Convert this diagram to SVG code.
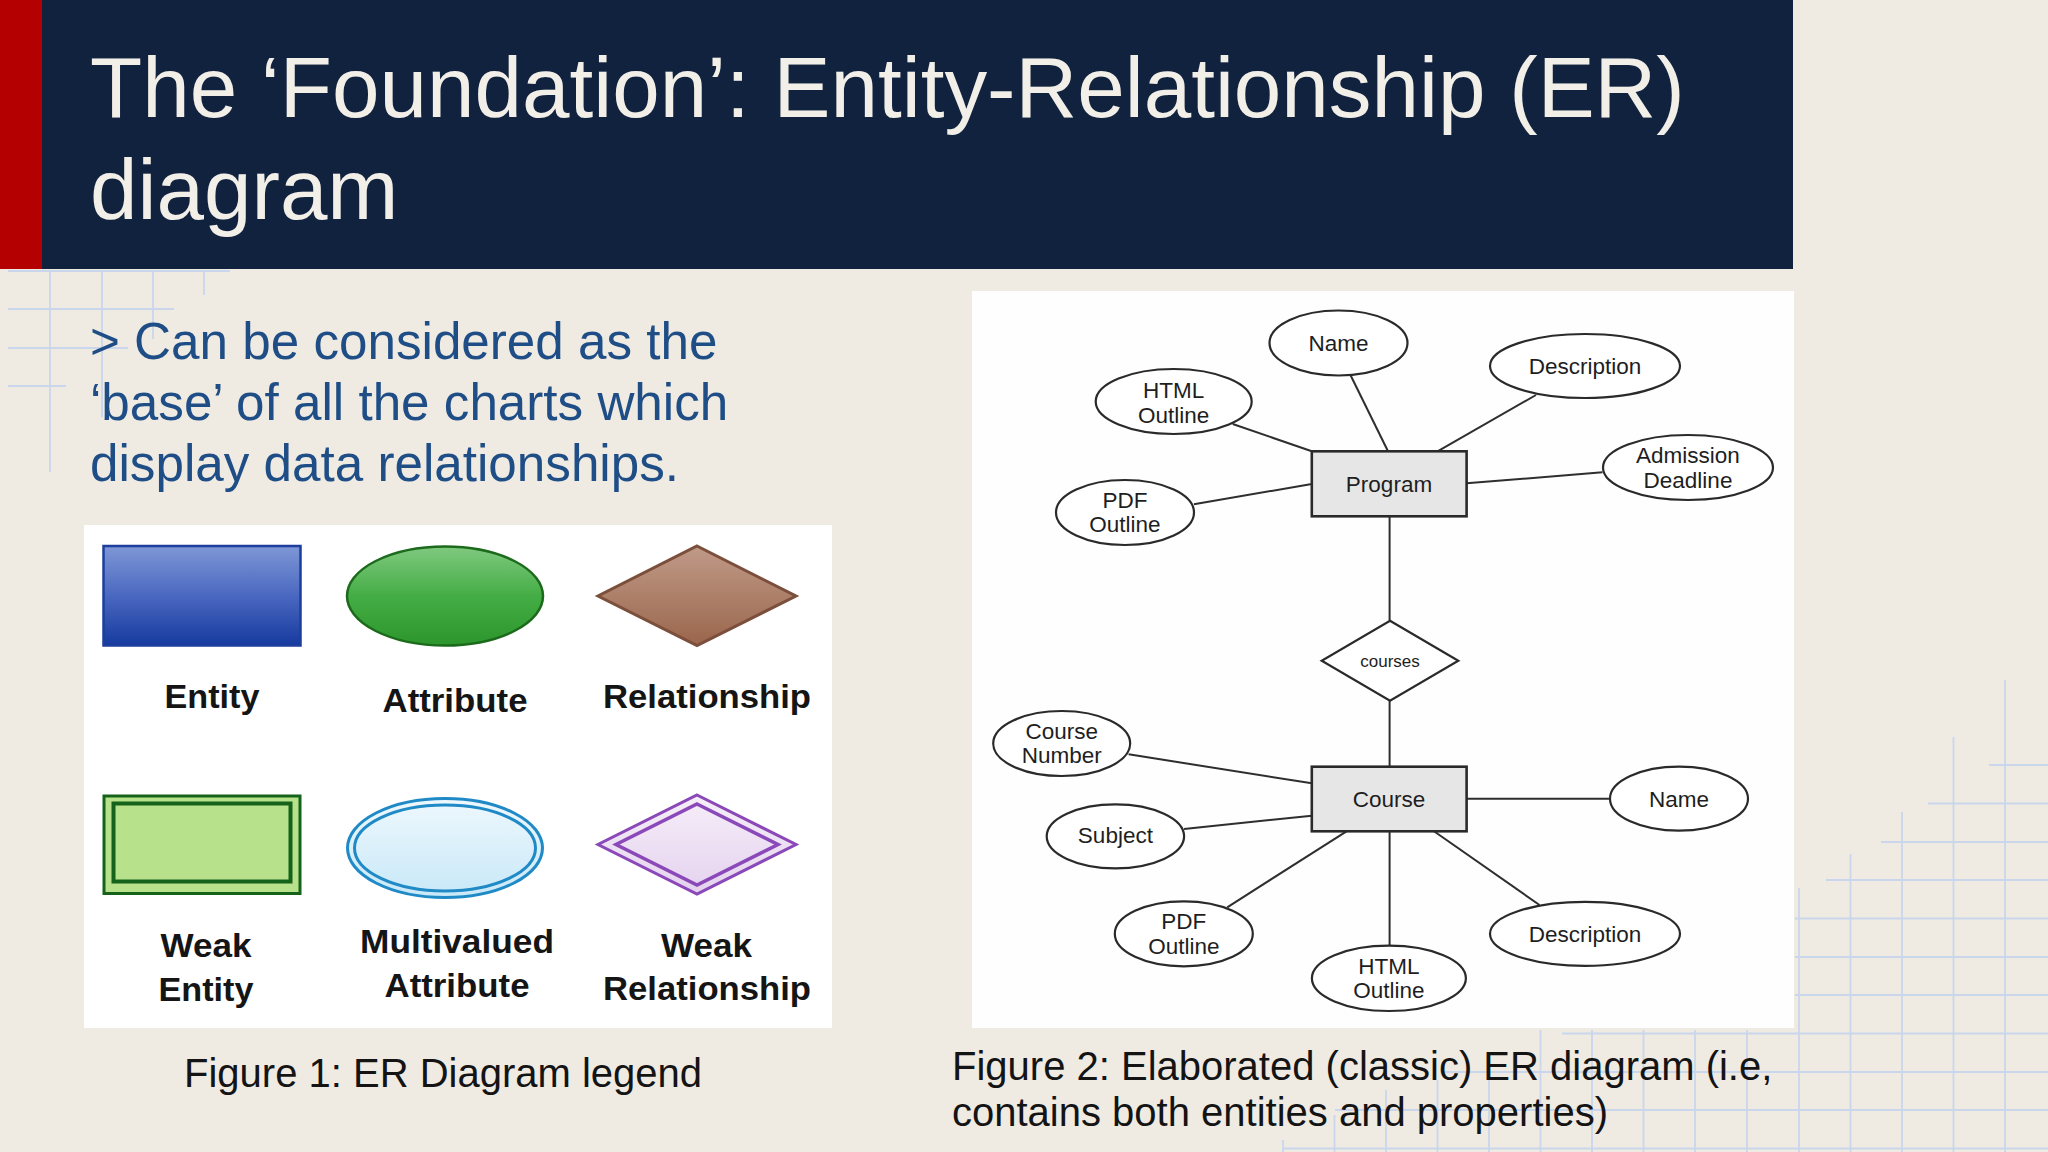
<svg xmlns="http://www.w3.org/2000/svg" width="2048" height="1152" viewBox="0 0 2048 1152">
<defs>
<style>
.grid{stroke:#c9d6ec;stroke-width:1.8;fill:none}
.title{font-family:"Liberation Sans",Arial,sans-serif;font-size:85.4px;fill:#f2efe8}
.body{font-family:"Liberation Sans",Arial,sans-serif;font-size:51.2px;fill:#1f4e87}
.cap{font-family:"Liberation Sans",Arial,sans-serif;font-size:40px;fill:#141414}
.lg{font-family:"Liberation Sans",Arial,sans-serif;font-size:33px;font-weight:bold;fill:#151515;text-anchor:middle}
.er{font-family:"Liberation Sans",Arial,sans-serif;font-size:22.5px;fill:#1e1e1e;text-anchor:middle}
.ers{font-family:"Liberation Sans",Arial,sans-serif;font-size:17px;fill:#1e1e1e;text-anchor:middle}
.attr{fill:#ffffff;stroke:#2a2a2a;stroke-width:2.2}
.ent{fill:#e6e6e6;stroke:#2a2a2a;stroke-width:2.6}
.conn line{stroke:#2e2e2e;stroke-width:2}
</style>
<linearGradient id="gEnt" x1="0" y1="0" x2="0" y2="1">
<stop offset="0" stop-color="#7f97d6"/><stop offset="0.5" stop-color="#4a68c0"/><stop offset="1" stop-color="#163a9f"/>
</linearGradient>
<linearGradient id="gAttr" x1="0" y1="0" x2="0" y2="1">
<stop offset="0" stop-color="#7fc97f"/><stop offset="0.5" stop-color="#45ad45"/><stop offset="1" stop-color="#2c952c"/>
</linearGradient>
<linearGradient id="gRel" x1="0" y1="0" x2="0" y2="1">
<stop offset="0" stop-color="#c09a88"/><stop offset="1" stop-color="#9a664c"/>
</linearGradient>
<linearGradient id="gMv" x1="0" y1="0" x2="0" y2="1">
<stop offset="0" stop-color="#eef8fd"/><stop offset="1" stop-color="#c8e8f8"/>
</linearGradient>
<linearGradient id="gWr" x1="0" y1="0" x2="0" y2="1">
<stop offset="0" stop-color="#f6eef9"/><stop offset="1" stop-color="#e4d2ee"/>
</linearGradient>
</defs>

<rect x="0" y="0" width="2048" height="1152" fill="#efebe3"/>

<g id="grid-topleft" class="grid">
<line x1="50" y1="270" x2="50" y2="472"/>
<line x1="102" y1="270" x2="102" y2="417"/>
<line x1="153" y1="270" x2="153" y2="339"/>
<line x1="204" y1="270" x2="204" y2="295"/>
<line x1="8" y1="271" x2="230" y2="271"/>
<line x1="8" y1="309" x2="174" y2="309"/>
<line x1="8" y1="348" x2="128" y2="348"/>
<line x1="8" y1="386" x2="66" y2="386"/>
</g>

<g id="grid-bottomright" class="grid">
<line x1="1283" y1="1140" x2="1283" y2="1152"/>
<line x1="1334.5" y1="1115" x2="1334.5" y2="1152"/>
<line x1="1386" y1="1090" x2="1386" y2="1152"/>
<line x1="1437.5" y1="1080" x2="1437.5" y2="1152"/>
<line x1="1489" y1="1065" x2="1489" y2="1152"/>
<line x1="1540.5" y1="1030" x2="1540.5" y2="1152"/>
<line x1="1592" y1="1030" x2="1592" y2="1152"/>
<line x1="1643.5" y1="1030" x2="1643.5" y2="1152"/>
<line x1="1695" y1="1030" x2="1695" y2="1152"/>
<line x1="1747" y1="1030" x2="1747" y2="1152"/>
<line x1="1799" y1="888" x2="1799" y2="1152"/>
<line x1="1850.5" y1="854" x2="1850.5" y2="1152"/>
<line x1="1902" y1="812" x2="1902" y2="1152"/>
<line x1="1953.5" y1="737" x2="1953.5" y2="1152"/>
<line x1="2005" y1="680" x2="2005" y2="1152"/>
<line x1="1989" y1="765" x2="2048" y2="765"/>
<line x1="1928" y1="803.5" x2="2048" y2="803.5"/>
<line x1="1881" y1="842" x2="2048" y2="842"/>
<line x1="1826" y1="880" x2="2048" y2="880"/>
<line x1="1795" y1="918.5" x2="2048" y2="918.5"/>
<line x1="1795" y1="957" x2="2048" y2="957"/>
<line x1="1795" y1="995" x2="2048" y2="995"/>
<line x1="1562" y1="1033.5" x2="2048" y2="1033.5"/>
<line x1="1445" y1="1072" x2="2048" y2="1072"/>
<line x1="1335" y1="1110" x2="2048" y2="1110"/>
<line x1="1283" y1="1148.5" x2="2048" y2="1148.5"/>
</g>

<g id="header">
<rect x="0" y="0" width="42" height="269" fill="#b40000"/>
<rect x="42" y="0" width="1751" height="269" fill="#11223f"/>
<text class="title" x="90" y="117">The ‘Foundation’: Entity-Relationship (ER)</text>
<text class="title" x="90" y="219">diagram</text>
</g>

<g id="intro-text">
<text class="body" x="90" y="359">&gt; Can be considered as the</text>
<text class="body" x="90" y="420">‘base’ of all the charts which</text>
<text class="body" x="90" y="481">display data relationships.</text>
</g>

<g id="legend">
<rect x="84" y="525" width="748" height="503" fill="#ffffff"/>
<g id="legend-entity">
<rect x="103.5" y="546" width="197" height="99.5" fill="url(#gEnt)" stroke="#1d3e9c" stroke-width="2.5"/>
<text class="lg" x="212" y="708" textLength="95" lengthAdjust="spacingAndGlyphs">Entity</text>
</g>
<g id="legend-attribute">
<ellipse cx="445" cy="596" rx="98" ry="49.5" fill="url(#gAttr)" stroke="#1c6a1c" stroke-width="2.5"/>
<text class="lg" x="455" y="712" textLength="145" lengthAdjust="spacingAndGlyphs">Attribute</text>
</g>
<g id="legend-relationship">
<polygon points="697,546 796,596 697,645.5 598,596" fill="url(#gRel)" stroke="#7b4f3b" stroke-width="3"/>
<text class="lg" x="707" y="708" textLength="208" lengthAdjust="spacingAndGlyphs">Relationship</text>
</g>
<g id="legend-weak-entity">
<rect x="104" y="796" width="196" height="97.5" fill="#b8e18b" stroke="#15621b" stroke-width="3"/>
<rect x="113.5" y="803.5" width="177" height="78" fill="none" stroke="#15621b" stroke-width="4"/>
<text class="lg" x="206" y="957" textLength="91" lengthAdjust="spacingAndGlyphs">Weak</text>
<text class="lg" x="206" y="1001" textLength="95" lengthAdjust="spacingAndGlyphs">Entity</text>
</g>
<g id="legend-multivalued">
<ellipse cx="445" cy="848" rx="97.5" ry="49.5" fill="url(#gMv)" stroke="#1f8ac6" stroke-width="3"/>
<ellipse cx="445" cy="848" rx="90.5" ry="43" fill="none" stroke="#1f8ac6" stroke-width="3"/>
<text class="lg" x="457" y="953" textLength="194" lengthAdjust="spacingAndGlyphs">Multivalued</text>
<text class="lg" x="457" y="997" textLength="145" lengthAdjust="spacingAndGlyphs">Attribute</text>
</g>
<g id="legend-weak-relationship">
<polygon points="697,795 796,844.5 697,894 598,844.5" fill="url(#gWr)" stroke="#8a48b8" stroke-width="3"/>
<polygon points="697,804 778,844.5 697,885 616,844.5" fill="none" stroke="#8a48b8" stroke-width="3.5"/>
<text class="lg" x="706.5" y="957" textLength="91" lengthAdjust="spacingAndGlyphs">Weak</text>
<text class="lg" x="707" y="1000" textLength="208" lengthAdjust="spacingAndGlyphs">Relationship</text>
</g>
</g>
<text class="cap" x="184" y="1087">Figure 1: ER Diagram legend</text>

<rect id="er-panel" x="972" y="291" width="822" height="737" fill="#fefefe"/>

<g id="connectors" class="conn">
<line x1="1350.7" y1="375.5" x2="1388" y2="451.3"/>
<line x1="1536" y1="395" x2="1437.5" y2="451.3"/>
<line x1="1232.7" y1="424" x2="1311.8" y2="451.3"/>
<line x1="1602.5" y1="472.3" x2="1466.6" y2="483.3"/>
<line x1="1193.9" y1="504.3" x2="1311.8" y2="484"/>
<line x1="1389.6" y1="516.3" x2="1389.6" y2="620.7"/>
<line x1="1389.6" y1="700.7" x2="1389.6" y2="766.7"/>
<line x1="1128.6" y1="754.3" x2="1311.8" y2="783.3"/>
<line x1="1466.6" y1="798.7" x2="1610" y2="798.7"/>
<line x1="1184" y1="829" x2="1311.8" y2="815.7"/>
<line x1="1227.2" y1="907.3" x2="1346.5" y2="831.3"/>
<line x1="1389.6" y1="831.3" x2="1389.6" y2="945.7"/>
<line x1="1539.5" y1="905" x2="1434" y2="831.3"/>
</g>

<g id="program">
<rect class="ent" x="1311.8" y="451.3" width="154.8" height="65"/>
<text class="er" x="1389" y="492">Program</text>
</g>
<g id="program-name">
<ellipse class="attr" cx="1338.5" cy="343" rx="69" ry="32.5"/>
<text class="er" x="1338.5" y="351">Name</text>
</g>
<g id="program-description">
<ellipse class="attr" cx="1585" cy="366" rx="95" ry="32"/>
<text class="er" x="1585" y="374">Description</text>
</g>
<g id="program-html-outline">
<ellipse class="attr" cx="1173.7" cy="401.5" rx="78" ry="32.5"/>
<text class="er" x="1173.7" y="397.7">HTML</text>
<text class="er" x="1173.7" y="422.7">Outline</text>
</g>
<g id="program-admission-deadline">
<ellipse class="attr" cx="1688" cy="467.5" rx="85" ry="32.5"/>
<text class="er" x="1688" y="463.3">Admission</text>
<text class="er" x="1688" y="488.3">Deadline</text>
</g>
<g id="program-pdf-outline">
<ellipse class="attr" cx="1125" cy="512.5" rx="69" ry="32.5"/>
<text class="er" x="1125" y="508.3">PDF</text>
<text class="er" x="1125" y="532.3">Outline</text>
</g>
<g id="courses">
<polygon class="attr" points="1390,620.7 1458.3,660.7 1390,700.7 1321.7,660.7"/>
<text class="ers" x="1390" y="667">courses</text>
</g>
<g id="course">
<rect class="ent" x="1311.8" y="766.7" width="154.8" height="64.6"/>
<text class="er" x="1389" y="806.7">Course</text>
</g>
<g id="course-number">
<ellipse class="attr" cx="1061.7" cy="743.5" rx="68.5" ry="32.5"/>
<text class="er" x="1061.7" y="739.3">Course</text>
<text class="er" x="1061.7" y="763.3">Number</text>
</g>
<g id="course-name">
<ellipse class="attr" cx="1679" cy="798.7" rx="69" ry="32"/>
<text class="er" x="1679" y="806.7">Name</text>
</g>
<g id="course-subject">
<ellipse class="attr" cx="1115.4" cy="836.3" rx="68.7" ry="32"/>
<text class="er" x="1115.4" y="843">Subject</text>
</g>
<g id="course-pdf-outline">
<ellipse class="attr" cx="1183.8" cy="933.8" rx="69" ry="32.5"/>
<text class="er" x="1183.8" y="929.3">PDF</text>
<text class="er" x="1183.8" y="954">Outline</text>
</g>
<g id="course-description">
<ellipse class="attr" cx="1585" cy="933.8" rx="95" ry="32"/>
<text class="er" x="1585" y="941.7">Description</text>
</g>
<g id="course-html-outline">
<ellipse class="attr" cx="1388.9" cy="978.3" rx="77" ry="32.7"/>
<text class="er" x="1388.9" y="974">HTML</text>
<text class="er" x="1388.9" y="998.3">Outline</text>
</g>

<text class="cap" x="952" y="1080">Figure 2: Elaborated (classic) ER diagram (i.e,</text>
<text class="cap" x="952" y="1126">contains both entities and properties)</text>
</svg>
